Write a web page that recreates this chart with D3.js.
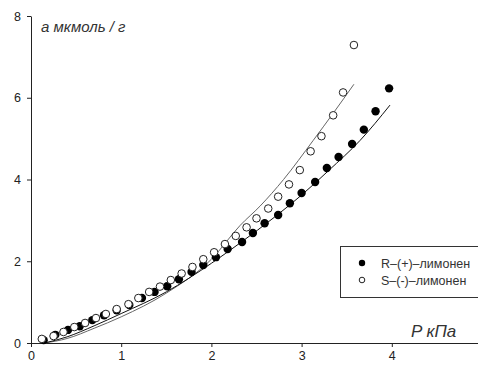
<!DOCTYPE html>
<html>
<head>
<meta charset="utf-8">
<script src="https://cdn.jsdelivr.net/npm/d3@7"></script>
<style>
  body { margin: 0; background: #fff; }
  text { font-family: "Liberation Sans", Arial, sans-serif; }
  .axis text { font-size: 12.5px; fill: #222; }
  .axis path, .axis line { stroke: #222; stroke-width: 1; }
  .axis-label { font-style: italic; fill: #333; }
  .legend-text { font-size: 12.5px; fill: #333; }
</style>
</head>
<body>
<div id="chart"></div>
<script>
// Data: R-(+)-limonene (filled) and S-(-)-limonene (open)
const rP = [0.14, 0.27, 0.41, 0.54, 0.68, 0.81, 0.95, 1.09, 1.23, 1.37, 1.51, 1.64, 1.78, 1.91, 2.05, 2.18, 2.34, 2.46, 2.59, 2.74, 2.87, 3.00, 3.15, 3.28, 3.41, 3.56, 3.69, 3.82, 3.97];
const rA = [0.07, 0.20, 0.32, 0.41, 0.56, 0.68, 0.80, 0.93, 1.10, 1.25, 1.39, 1.56, 1.74, 1.91, 2.10, 2.30, 2.47, 2.69, 2.93, 3.13, 3.42, 3.67, 3.94, 4.28, 4.55, 4.87, 5.22, 5.67, 6.23];

const sP = [0.12, 0.25, 0.36, 0.48, 0.60, 0.72, 0.83, 0.95, 1.08, 1.19, 1.31, 1.43, 1.55, 1.67, 1.79, 1.91, 2.03, 2.15, 2.27, 2.39, 2.50, 2.63, 2.74, 2.86, 2.98, 3.10, 3.22, 3.35, 3.46, 3.58];
const sA = [0.10, 0.17, 0.27, 0.39, 0.49, 0.61, 0.71, 0.83, 0.95, 1.10, 1.25, 1.38, 1.54, 1.70, 1.86, 2.05, 2.22, 2.42, 2.62, 2.83, 3.05, 3.29, 3.58, 3.88, 4.23, 4.69, 5.06, 5.57, 6.13, 7.29];

// Fitted curves
const rFitP = [0.15, 0.4, 0.7, 1.0, 1.5, 2.0, 2.32, 2.7, 3.0, 3.3, 3.65, 3.98];
const rFitA = [0.0, 0.15, 0.42, 0.72, 1.25, 1.95, 2.45, 3.08, 3.62, 4.22, 4.96, 5.82];
const sFitP = [0.15, 0.4, 0.7, 1.0, 1.5, 2.0, 2.32, 2.54, 2.8, 3.13, 3.35, 3.58];
const sFitA = [0.0, 0.11, 0.36, 0.64, 1.22, 2.05, 2.88, 3.35, 4.0, 4.96, 5.62, 6.33];

const xTicks = [0, 1, 2, 3, 4];
const yTicks = [0, 2, 4, 6, 8];
const legendLabels = ["R–(+)–лимонен", "S–(-)–лимонен"];

// Setup
const width = 478, height = 367;
const svg = d3.select("#chart").append("svg")
    .attr("width", width)
    .attr("height", height);

const x = d3.scaleLinear().domain([0, 5]).range([31, 482]);
const y = d3.scaleLinear().domain([0, 8]).range([343, 16]);

// Axes
svg.append("g")
    .attr("class", "axis")
    .attr("transform", `translate(0, ${y(0)})`)
    .call(d3.axisBottom(x).tickValues(xTicks).tickFormat(d3.format("d"))
            .tickSize(4).tickSizeOuter(0).tickPadding(4))
    .call(g => g.select(".domain").attr("d", `M${x(0)},0.5H${width}`));

svg.append("g")
    .attr("class", "axis")
    .attr("transform", `translate(${x(0)}, 0)`)
    .call(d3.axisLeft(y).tickValues(yTicks).tickFormat(d3.format("d"))
            .tickSize(4).tickSizeOuter(0).tickPadding(6));

// Fitted lines
const line = d3.line().x(d => x(d[0])).y(d => y(d[1])).curve(d3.curveMonotoneX);

svg.append("path")
    .datum(d3.zip(sFitP, sFitA))
    .attr("fill", "none")
    .attr("stroke", "#666")
    .attr("stroke-width", 1)
    .attr("d", line);

svg.append("path")
    .datum(d3.zip(rFitP, rFitA))
    .attr("fill", "none")
    .attr("stroke", "#111")
    .attr("stroke-width", 1)
    .attr("d", line);

// Points
svg.append("g").selectAll("circle")
    .data(d3.zip(rP, rA))
    .join("circle")
    .attr("cx", d => x(d[0]))
    .attr("cy", d => y(d[1]))
    .attr("r", 4.2)
    .attr("fill", "#000");

svg.append("g").selectAll("circle")
    .data(d3.zip(sP, sA))
    .join("circle")
    .attr("cx", d => x(d[0]))
    .attr("cy", d => y(d[1]))
    .attr("r", 3.8)
    .attr("fill", "#fff")
    .attr("stroke", "#222")
    .attr("stroke-width", 1);

// Axis labels
svg.append("text")
    .attr("class", "axis-label")
    .attr("x", 41)
    .attr("y", 32)
    .style("font-size", "15px")
    .text("а мкмоль / г");

svg.append("text")
    .attr("class", "axis-label")
    .attr("x", 411)
    .attr("y", 337)
    .style("font-size", "17px")
    .text("P кПа");

// Legend
const legend = svg.append("g");
legend.append("rect")
    .attr("x", 340.5)
    .attr("y", 246.5)
    .attr("width", 150)
    .attr("height", 51)
    .attr("fill", "#fff")
    .attr("stroke", "#333")
    .attr("stroke-width", 1);

legendLabels.forEach((label, i) => {
  const ly = 263 + i * 17;
  legend.append("circle")
      .attr("cx", 362)
      .attr("cy", ly)
      .attr("r", i === 0 ? 3.2 : 2.8)
      .attr("fill", i === 0 ? "#000" : "#fff")
      .attr("stroke", i === 0 ? "none" : "#222")
      .attr("stroke-width", 1);
  legend.append("text")
      .attr("class", "legend-text")
      .attr("x", 381)
      .attr("y", ly + 4.5)
      .text(label);
});
</script>
</body>
</html>
